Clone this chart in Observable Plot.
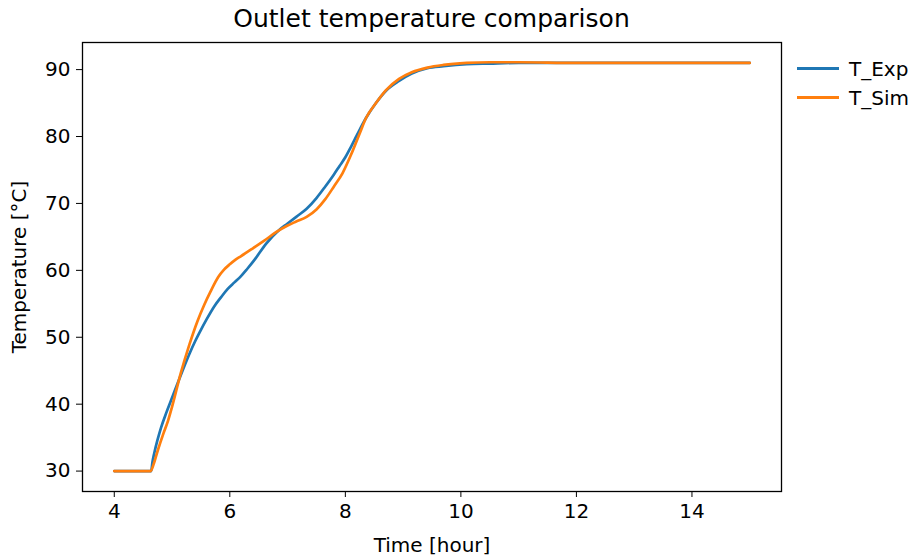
<!DOCTYPE html>
<html>
<head>
<meta charset="utf-8">
<script src="https://cdn.jsdelivr.net/npm/d3@7"></script>
<script src="https://cdn.jsdelivr.net/npm/@observablehq/plot@0.6"></script>
<style>
  html, body { margin: 0; padding: 0; background: #fff; }
  #wrap { position: relative; width: 922px; height: 558px; font-family: "DejaVu Sans", sans-serif; color: #000; }
  #title { position: absolute; left: 82px; width: 699px; top: 4px; text-align: center; font-size: 25px; }
  #legend { position: absolute; left: 797px; top: 54px; font-size: 20px; }
  .item { display: flex; align-items: center; height: 29px; }
  .swatch { width: 42px; height: 3px; margin-right: 10px; }
</style>
</head>
<body>
<div id="wrap">
  <div id="title">Outlet temperature comparison</div>
  <div id="legend"></div>
</div>
<script>
const seriesNames = ["T_Exp", "T_Sim"];
const seriesColors = ["#1f77b4", "#ff7f0e"];

const expTime = [4.0, 4.3, 4.64, 4.66, 4.69, 4.75, 4.81, 4.9, 4.98, 5.1, 5.2, 5.3, 5.4, 5.5, 5.6, 5.73, 5.85, 5.96, 6.08, 6.19, 6.3, 6.43, 6.63, 6.85, 7.0, 7.15, 7.33, 7.5, 7.65, 7.8, 7.9, 8.0, 8.1, 8.2, 8.36, 8.53, 8.7, 8.93, 9.15, 9.42, 9.7, 10.1, 10.5, 11, 12, 13, 14, 15];
const expTemp = [30, 30, 30, 31.3, 32.6, 34.7, 36.5, 38.7, 40.5, 43.2, 45.4, 47.5, 49.4, 51.1, 52.7, 54.6, 56.0, 57.2, 58.2, 59.1, 60.2, 61.6, 64.0, 66.0, 67.0, 68.0, 69.2, 70.8, 72.5, 74.3, 75.6, 76.9, 78.5, 80.2, 82.8, 85, 86.8, 88.3, 89.4, 90.2, 90.5, 90.8, 90.9, 91, 91, 91, 91, 91];

const simTime = [4.0, 4.3, 4.63, 4.68, 4.75, 4.85, 4.93, 5.0, 5.15, 5.3, 5.44, 5.56, 5.67, 5.8, 5.9, 6.0, 6.1, 6.19, 6.4, 6.59, 6.8, 7.0, 7.15, 7.33, 7.5, 7.65, 7.8, 7.95, 8.1, 8.25, 8.36, 8.53, 8.7, 8.93, 9.15, 9.42, 9.7, 10.1, 10.5, 11, 12, 13, 14, 15];
const simTemp = [30, 30, 30, 31, 33, 35.6, 37.5, 39.6, 44.6, 48.9, 52.4, 54.9, 56.9, 59.0, 60.1, 60.9, 61.6, 62.1, 63.3, 64.4, 65.7, 66.7, 67.3, 68, 69.1, 70.6, 72.5, 74.5, 77.3, 80.5, 82.8, 85, 86.9, 88.6, 89.6, 90.3, 90.7, 91.0, 91.1, 91.1, 91.0, 91.0, 91.0, 91.0];

const xTicks = [4, 6, 8, 10, 12, 14];
const yTicks = [30, 40, 50, 60, 70, 80, 90];

const exp = expTime.map((t, i) => ({t, v: expTemp[i]}));
const sim = simTime.map((t, i) => ({t, v: simTemp[i]}));

const chart = Plot.plot({
  width: 922,
  height: 558,
  marginLeft: 82,
  marginRight: 141,
  marginTop: 42,
  marginBottom: 67,
  style: {fontFamily: "DejaVu Sans, sans-serif", fontSize: "20px", color: "#000", background: "transparent"},
  x: {domain: [3.45, 15.55]},
  y: {domain: [26.95, 94.05]},
  marks: [
    Plot.frame({stroke: "#000", strokeWidth: 1.3}),
    Plot.axisX({ticks: xTicks, tickSize: 6, tickPadding: 6, label: "Time [hour]", labelAnchor: "center", labelArrow: "none", labelOffset: 60, fontSize: 20}),
    Plot.axisY({ticks: yTicks, tickSize: 6, tickPadding: 6, label: "Temperature [°C]", labelAnchor: "center", labelArrow: "none", labelOffset: 71, fontSize: 20}),
    Plot.line(exp, {x: "t", y: "v", stroke: seriesColors[0], strokeWidth: 2.7, curve: "monotone-x"}),
    Plot.line(sim, {x: "t", y: "v", stroke: seriesColors[1], strokeWidth: 2.7, curve: "monotone-x"})
  ]
});
chart.style.position = "absolute";
chart.style.left = "0px";
chart.style.top = "0px";
const wrap = document.getElementById("wrap");
wrap.insertBefore(chart, wrap.firstChild);

const legend = document.getElementById("legend");
seriesNames.forEach((n, i) => {
  const d = document.createElement("div");
  d.className = "item";
  d.innerHTML = `<span class="swatch" style="background:${seriesColors[i]}"></span><span>${n}</span>`;
  legend.appendChild(d);
});
</script>
</body>
</html>
